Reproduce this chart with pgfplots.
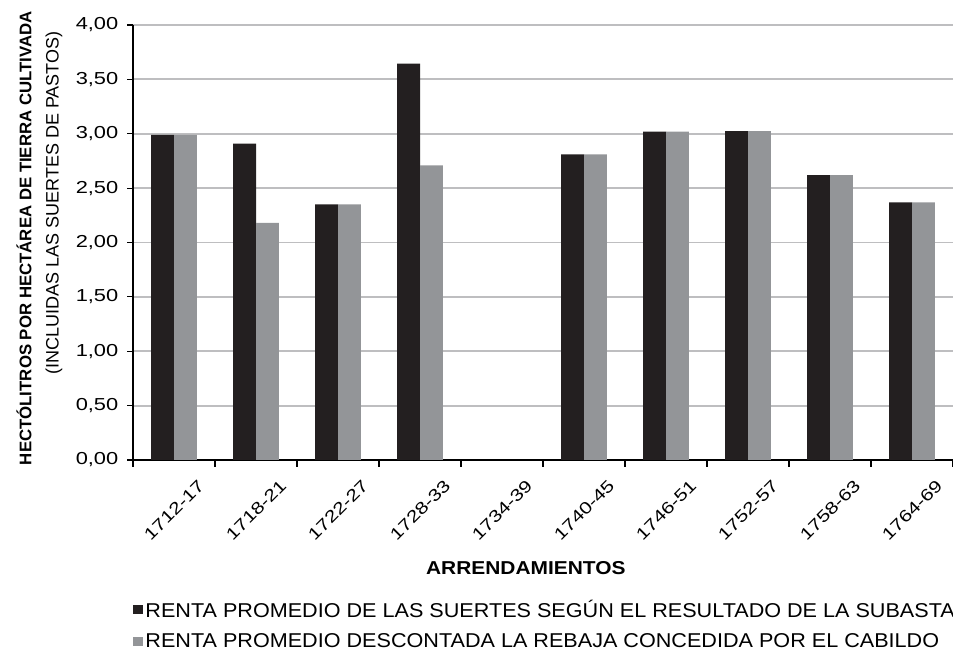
\documentclass[border=0pt]{standalone}
\usepackage{pgfplots}
\pgfplotsset{compat=1.18}
\usepackage{fontspec}
\setmainfont{Liberation Sans}
\newfontfamily\tickfont[FakeStretch=1.26]{Liberation Sans}
\newfontfamily\legfont[FakeStretch=1.08]{Liberation Sans}
\newfontfamily\xlabfont[FakeStretch=1.12]{Liberation Sans}
\newlength\px
\setlength\px{0.75pt}
\definecolor{barblack}{RGB}{35,31,32}
\definecolor{bargray}{RGB}{147,149,152}
\definecolor{gridgray}{RGB}{190,190,192}
\begin{document}
\begin{tikzpicture}
\useasboundingbox (0,0) rectangle (953\px,653\px);
\begin{axis}[
  at={(133\px,193\px)}, anchor=south west,
  scale only axis,
  width=820\px, height=435\px,
  ybar=0pt, bar width=0.28,
  xmin=-0.5, xmax=9.5,
  ymin=0, ymax=4,
  axis x line*=bottom, axis y line*=left,
  axis line style={black, line width=1.5\px},
  xtick={0,...,9},
  xticklabels={1712-17,1718-21,1722-27,1728-33,1734-39,1740-45,1746-51,1752-57,1758-63,1764-69},
  xtick style={draw=none},
  extra x ticks={-0.5,0.5,...,9.5},
  extra x tick labels={},
  extra x tick style={xtick style={draw=black, line width=1.2\px}, major tick length=7\px, tick align=outside, grid=none},
  xticklabel style={font=\tickfont\fontsize{12.5pt}{15pt}\selectfont, yshift=-44\px, rotate=45, anchor=center},
  ytick={0,0.5,...,4},
  ytick style={black, line width=1.2\px},
  tick align=outside, major tick length=6\px,
  yticklabel style={font=\tickfont\fontsize{13pt}{15pt}\selectfont, xshift=-4\px},
  /pgf/number format/.cd, fixed, fixed zerofill, precision=2, use comma, assume math mode=true,
  /pgfplots/.cd,
  ymajorgrids, grid style={gridgray, line width=1.8\px},
  legend style={at={(axis description cs:0,-0.315)}, anchor=north west, draw=none, fill=none,
    font=\legfont\fontsize{15pt}{17pt}\selectfont, row sep=6.5pt, inner sep=0pt},
  legend cell align=left,
  legend image code/.code={\fill[#1] (0\px,-4.7\px) rectangle (9.5\px,4.7\px);},
  clip=false,
]
\addplot[fill=barblack, draw=none] coordinates {(0,2.99) (1,2.91) (2,2.35) (3,3.645) (5,2.81) (6,3.02) (7,3.025) (8,2.62) (9,2.37)};
\addplot[fill=bargray, draw=none] coordinates {(0,2.99) (1,2.18) (2,2.35) (3,2.71) (5,2.81) (6,3.02) (7,3.025) (8,2.62) (9,2.37)};
\legend{RENTA PROMEDIO DE LAS SUERTES SEGÚN EL RESULTADO DE LA SUBASTA, RENTA PROMEDIO DESCONTADA LA REBAJA CONCEDIDA POR EL CABILDO}
\node[rotate=90, font=\bfseries\fontsize{12.6pt}{14pt}\selectfont] at (axis description cs:-0.1329,0.51) {HECTÓLITROS POR HECTÁREA DE TIERRA CULTIVADA};
\node[rotate=90, font=\fontsize{13.5pt}{15pt}\selectfont] at (axis description cs:-0.0963,0.591) {(INCLUIDAS LAS SUERTES DE PASTOS)};
\node[font=\xlabfont\bfseries\fontsize{14pt}{16pt}\selectfont] at (axis description cs:0.479,-0.248) {ARRENDAMIENTOS};
\end{axis}
\end{tikzpicture}
\end{document}
